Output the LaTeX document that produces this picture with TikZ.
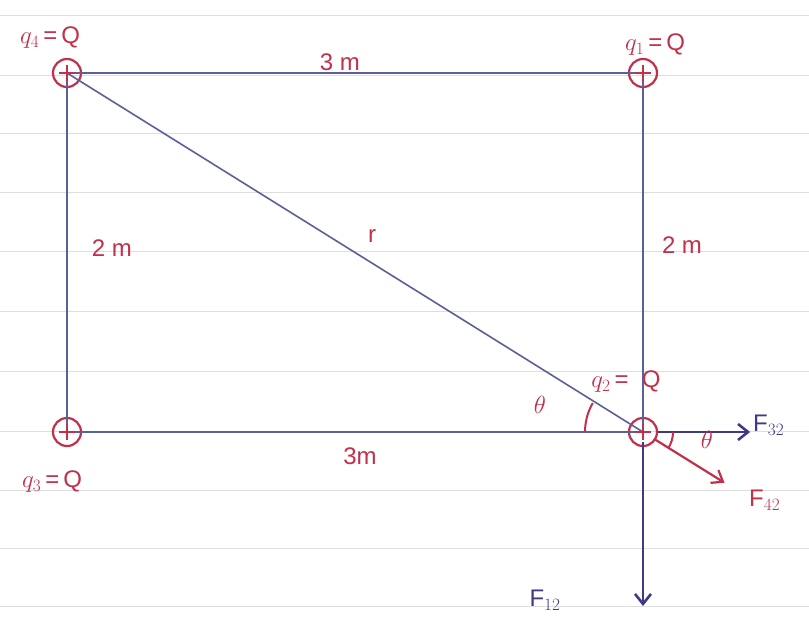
\documentclass[tikz,border=0pt]{standalone}
\usepackage{fontspec}
\setmainfont{Liberation Sans}
\usetikzlibrary{arrows.meta}
\definecolor{redc}{HTML}{C2304A}
\definecolor{linec}{HTML}{5B6098}
\definecolor{bluec}{HTML}{3E3A86}
\begin{document}
\begin{tikzpicture}[x=1pt,y=-1pt,
  paper/.style={draw=black!13,line width=1pt},
  side/.style={draw=linec,line width=1.6pt},
  charge/.style={circle,draw=redc,line width=2.2pt,minimum size=28pt,inner sep=0pt},
  lab/.style={text=redc,font=\fontsize{24}{26}\selectfont,inner sep=1pt},
  blab/.style={text=bluec,font=\fontsize{24}{26}\selectfont,inner sep=1pt},
  barrow/.style={draw=bluec,line width=2.8pt,-{Straight Barb[length=10pt,width=16pt,line width=2.6pt]}},
  rarrow/.style={draw=redc,line width=2.2pt,-{Straight Barb[length=10pt,width=15pt,line width=2.2pt]}}]
\useasboundingbox (0,0) rectangle (809,621);
\fill[white] (0,0) rectangle (809,621);
\foreach \yy in {15,75,133,192,251,311,371,431,490,548,606}
  \draw[paper] (0,\yy) -- (809,\yy);
% charges
\node[charge] (q4) at (67,73) {};
\node[charge] (q1) at (643,73) {};
\node[charge] (q3) at (67,432) {};
\node[charge] (q2) at (643,432) {};
% sides
\draw[side] (q4.center) -- (q1.center) -- (q2.center) -- (q3.center) -- cycle;
\draw[side] (q4.center) -- (q2.center);
% plus signs
\foreach \n in {q1,q2,q3,q4}{
  \draw[redc,line width=2pt] ([xshift=-8pt]\n.center) -- ([xshift=8pt]\n.center);
  \draw[redc,line width=2pt] ([yshift=-8pt]\n.center) -- ([yshift=8pt]\n.center);
}
% labels of charges
\node[lab] (l4) at (50,38) {$q_4$\,=\,Q};
\node[lab] (l1) at (655,45) {$q_1$\,=\,Q};
\node[lab] (l2) at (626,382) {$q_2$\,=\ \ Q};
\node[lab] (l3) at (52,482) {$q_3$\,=\,Q};
% dimensions
\node[lab] (top) at (340,62) {3 m};
\node[lab] (bot) at (360,456) {3m};
\node[lab] (lft) at (112,248) {2 m};
\node[lab] (rgt) at (682,245) {2 m};
\node[lab] (r) at (372,236) {r};
% angle left
\draw[redc,line width=2pt] ([shift={(180:58pt)}]q2.center) arc[start angle=180,end angle=150,radius=58pt];
\node[lab] (th1) at (540,405) {$\theta$};
% forces
\draw[barrow] (q2.east) -- ++(92,0) coordinate (f32e);
\node[blab,anchor=west] (f32) at (752,425) {F$_{32}$};
\draw[rarrow] (q2.center) ++(-31.9:14pt) coordinate (f42s) -- ++(-31.9:82pt) coordinate (f42e);
\draw[redc,line width=2pt] ([shift={(0:30pt)}]q2.center) arc[start angle=0,end angle=-31.9,radius=30pt];
\node[lab] (th2) at (707,440) {$\theta$};
\node[lab,anchor=west] (f42) at (748,500) {F$_{42}$};
\draw[barrow] ([yshift=5pt]q2.south) -- (643,606) coordinate (f12e);
\node[blab] (f12) at (545,600) {F$_{12}$};
\end{tikzpicture}
\end{document}
